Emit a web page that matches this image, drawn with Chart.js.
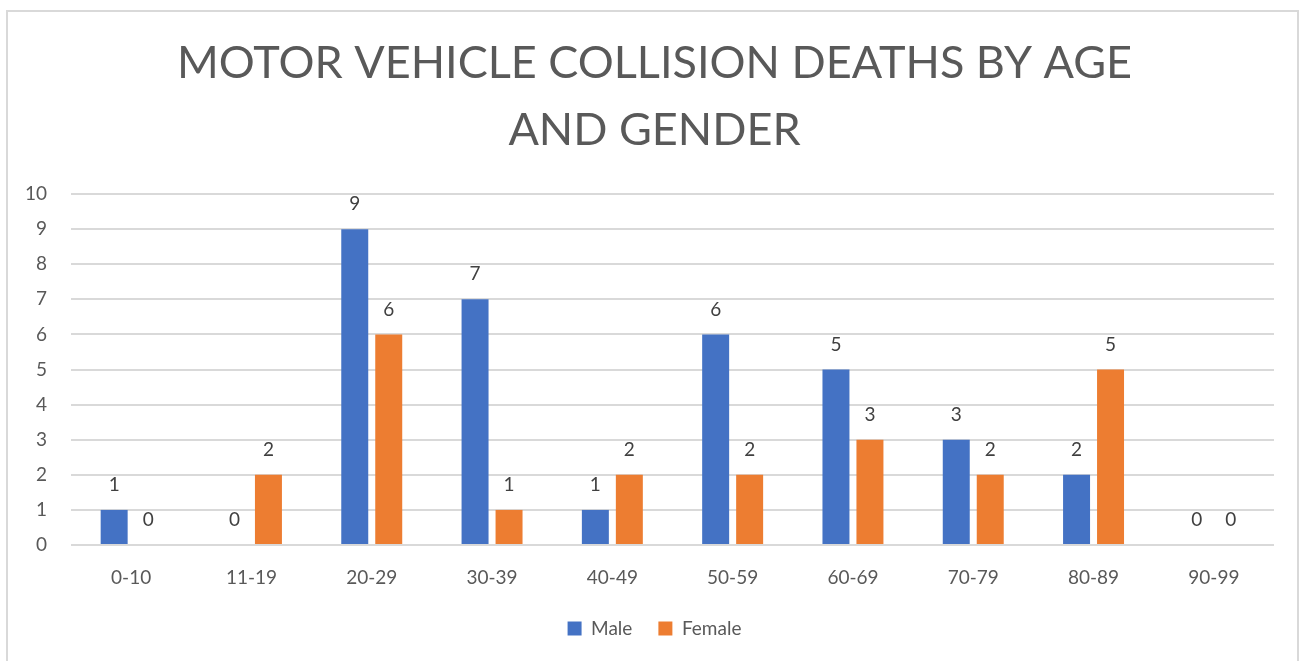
<!DOCTYPE html>
<html>
<head>
<meta charset="utf-8">
<script src="https://cdn.jsdelivr.net/npm/chart.js@4"></script>
<style>
  body { margin: 0; background: #fff; }
  #wrap { position: relative; width: 1305px; height: 661px; overflow: hidden; }
  #frame { position: absolute; left: 6px; top: 10px; width: 1293px; height: 700px; border: 2px solid #d9d9d9; box-sizing: border-box; }
  #chart { position: absolute; left: 0; top: 0; }
</style>
</head>
<body>
<div id="wrap">
  <div id="frame"></div>
  <canvas id="chart" width="1305" height="661"></canvas>
</div>
<script>
const ageGroups = ['0-10', '11-19', '20-29', '30-39', '40-49', '50-59', '60-69', '70-79', '80-89', '90-99'];
const male = [1, 0, 9, 7, 1, 6, 5, 3, 2, 0];
const female = [0, 2, 6, 1, 2, 2, 3, 2, 5, 0];
const yTicks = [0, 1, 2, 3, 4, 5, 6, 7, 8, 9, 10];

const FONT = 'Lato, "Open Sans", sans-serif';
const GREY = '#595959';

// draws the value above each bar
const barLabels = {
  id: 'barLabels',
  afterDatasetsDraw(chart) {
    const ctx = chart.ctx;
    ctx.save();
    ctx.font = '19px ' + FONT;
    ctx.fillStyle = '#404040';
    ctx.textAlign = 'center';
    ctx.textBaseline = 'middle';
    chart.data.datasets.forEach((ds, i) => {
      chart.getDatasetMeta(i).data.forEach((bar, j) => {
        ctx.fillText(String(ds.data[j]), bar.x, bar.y - 25);
      });
    });
    ctx.restore();
  }
};

new Chart(document.getElementById('chart'), {
  type: 'bar',
  data: {
    labels: ageGroups,
    datasets: [
      { label: 'Male', data: male, backgroundColor: '#4472c4' },
      { label: 'Female', data: female, backgroundColor: '#ed7d31' }
    ]
  },
  options: {
    responsive: false,
    animation: false,
    devicePixelRatio: 1,
    categoryPercentage: 0.565,
    barPercentage: 0.794,
    layout: { padding: { left: 10, right: 6, top: 0, bottom: 13 } },
    plugins: {
      title: {
        display: true,
        text: ['MOTOR VEHICLE COLLISION DEATHS BY AGE', 'AND GENDER'],
        color: GREY,
        font: { family: FONT, size: 45, weight: 'normal', lineHeight: 1.49 },
        padding: { top: 30, bottom: 30 }
      },
      legend: {
        position: 'bottom',
        labels: {
          color: GREY,
          font: { family: FONT, size: 19 },
          boxWidth: 14,
          boxHeight: 14,
          padding: 26
        }
      },
      tooltip: { enabled: false }
    },
    scales: {
      x: {
        afterFit: axis => { axis.height = 48; },
        grid: { display: false, drawTicks: false },
        border: { display: false },
        ticks: { color: GREY, font: { family: FONT, size: 19 }, padding: 21 }
      },
      y: {
        min: 0,
        max: 10,
        afterBuildTicks: axis => { axis.ticks = yTicks.map(v => ({ value: v })); },
        afterFit: axis => { axis.width = 61; },
        grid: { color: '#d9d9d9', lineWidth: 2, drawTicks: false },
        border: { display: false },
        ticks: { color: GREY, font: { family: FONT, size: 19 }, padding: 24 }
      },
      // empty right-hand margin so the title and legend centre like the original
      gap: {
        position: 'right',
        min: 0,
        max: 10,
        afterFit: axis => { axis.width = 25; },
        grid: { display: false, drawTicks: false },
        border: { display: false },
        ticks: { display: false }
      }
    }
  },
  plugins: [barLabels]
});
</script>
</body>
</html>
